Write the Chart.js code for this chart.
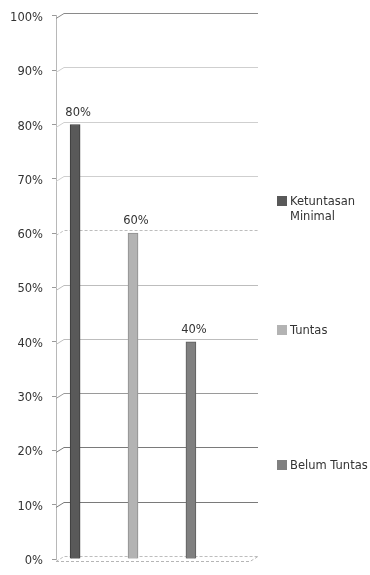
<!DOCTYPE html>
<html>
<head>
<meta charset="utf-8">
<script src="https://cdn.jsdelivr.net/npm/chart.js@4.4.1/dist/chart.umd.min.js"></script>
<style>
  html, body { margin: 0; padding: 0; background: #fff; }
  #wrap { position: relative; width: 370px; height: 575px; }
  #legend { position: absolute; left: 277px; top: 0; font: 11.5px "DejaVu Sans", sans-serif; color: #333; }
  .item { position: absolute; left: 0; display: flex; align-items: flex-start; line-height: 15px; white-space: nowrap; }
  .box { width: 10px; height: 10px; margin: 2px 3px 0 0; flex: none; }
</style>
</head>
<body>
<div id="wrap">
  <canvas id="chart" width="370" height="575"></canvas>
  <div id="legend"></div>
</div>
<script>
// ── data ─────────────────────────────
const seriesNames = [["Ketuntasan", "Minimal"], ["Tuntas"], ["Belum Tuntas"]];
const seriesValues = [80, 60, 40];
const yTicks = [0, 10, 20, 30, 40, 50, 60, 70, 80, 90, 100];

const seriesColors = ["#595959", "#b3b3b3", "#808080"];
const seriesBorders = ["#3c3c3c", "#8e8e8e", "#5c5c5c"];
const legendCenters = [201, 330, 465];

const fontFamily = '"DejaVu Sans", sans-serif';
const textColor = "#333";

// back wall of the 3D plot: gridlines pushed up/right, with short diagonals to the axis
const DX = 8, BACK = 3, FRONT = 2;
const gridColor = (v) => {
  if (v === 100) return "#8a8a8a";
  if (v === 10 || v === 20) return "#7a7a7a";
  if (v === 30) return "#9a9a9a";
  if (v >= 70) return "#cfcfcf";
  return "#bdbdbd";
};

const wallPlugin = {
  id: "wall",
  beforeDatasetsDraw(chart) {
    const { ctx, chartArea } = chart;
    const { left, right } = chartArea;
    const y = chart.scales.y;
    ctx.save();
    ctx.lineWidth = 1;
    yTicks.forEach((v) => {
      const py = Math.round(y.getPixelForValue(v)) + 0.5;
      ctx.strokeStyle = gridColor(v);
      ctx.setLineDash(v === 60 || v === 0 ? [3, 2] : []);
      ctx.beginPath();
      ctx.moveTo(left, py + FRONT);
      ctx.lineTo(left + DX, py - BACK);
      ctx.lineTo(right + DX, py - BACK);
      ctx.stroke();
    });
    // floor front edge
    const p0 = Math.round(y.getPixelForValue(0)) + 0.5;
    ctx.strokeStyle = "#b5b5b5";
    ctx.setLineDash([3, 2]);
    ctx.beginPath();
    ctx.moveTo(left, p0 + FRONT);
    ctx.lineTo(right, p0 + FRONT);
    ctx.lineTo(right + DX, p0 - BACK);
    ctx.stroke();
    ctx.restore();
  },
};

const valueLabels = {
  id: "valueLabels",
  afterDatasetsDraw(chart) {
    const { ctx } = chart;
    ctx.save();
    ctx.font = "11.5px " + fontFamily;
    ctx.fillStyle = textColor;
    ctx.textAlign = "center";
    ctx.textBaseline = "middle";
    chart.data.datasets.forEach((ds, i) => {
      const bar = chart.getDatasetMeta(i).data[0];
      ctx.fillText(seriesValues[i] + "%", bar.x + 3, bar.y - 12);
    });
    ctx.restore();
  },
};

new Chart(document.getElementById("chart"), {
  type: "bar",
  data: {
    datasets: seriesNames.map((name, i) => ({
      label: name.join(" "),
      data: [{ x: i, y: seriesValues[i] }],
      backgroundColor: seriesColors[i],
      borderColor: seriesBorders[i],
      borderWidth: 1,
      barThickness: 10,
      grouped: false,
    })),
  },
  options: {
    responsive: false,
    animation: false,
    layout: { padding: { left: 10, right: 120, top: 13, bottom: 9 } },
    plugins: { legend: { display: false }, tooltip: { enabled: false } },
    scales: {
      x: { type: "linear", display: false, offset: false, min: -0.33, max: 3.02 },
      y: {
        min: 0,
        max: 100,
        afterFit: (scale) => { scale.width = 46; },
        ticks: {
          stepSize: 10,
          callback: (v) => v + "%",
          color: textColor,
          font: { family: fontFamily, size: 11.5 },
          padding: 9,
          labelOffset: 2,
        },
        grid: { drawOnChartArea: false, tickLength: 4, color: "#9a9a9a" },
        border: { display: true, color: "#b8b8b8" },
      },
    },
  },
  plugins: [wallPlugin, valueLabels],
});

// legend, spread down the right side like the original
const legendEl = document.getElementById("legend");
seriesNames.forEach((name, i) => {
  const item = document.createElement("div");
  item.className = "item";
  item.style.top = legendCenters[i] - 7.5 + "px";
  item.innerHTML =
    `<span class="box" style="background:${seriesColors[i]}"></span>` +
    `<span>${name.join("<br>")}</span>`;
  legendEl.appendChild(item);
});
</script>
</body>
</html>
